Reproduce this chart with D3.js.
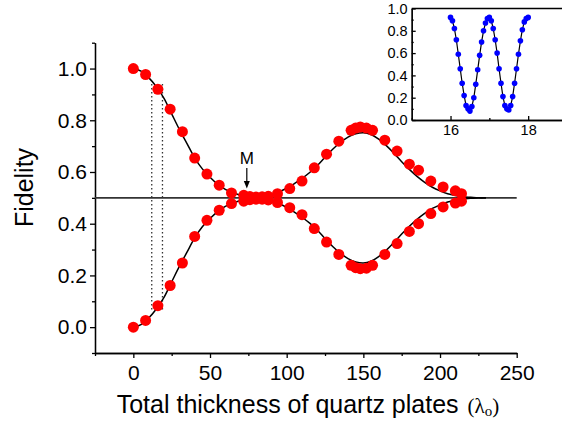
<!DOCTYPE html>
<meta charset="utf-8">
<head>
  <title>Fidelity vs quartz thickness</title>
</head>
<style>
body {
  margin: 0;
  background: #fff;
  font-family: "Liberation Sans", Arial, sans-serif;
}
.axis path, .axis line {
  stroke: #000;
  stroke-width: 1.3;
}
.axis text {
  fill: #000;
  font-family: "Liberation Sans", Arial, sans-serif;
}
</style>
<body>
  <div id="content"></div>
  <script src="https://cdnjs.cloudflare.com/ajax/libs/d3/7.8.5/d3.min.js"></script>
  <script>

// measured points (total thickness in units of lambda_o)
var thickness = [0, 8, 16, 24, 32, 40, 48, 56, 64, 72, 76, 80, 84, 88, 94, 102, 110, 118, 126, 134,
  142, 145, 148, 152, 156, 164, 172, 180, 186, 194, 202, 210, 214];
var fidUpper = [1.0, 0.977, 0.92, 0.843, 0.756, 0.654, 0.592, 0.549, 0.519, 0.51, 0.505, 0.503, 0.504, 0.506,
  0.516, 0.536, 0.565, 0.616, 0.669, 0.719, 0.761, 0.77, 0.774, 0.77, 0.761, 0.723, 0.681, 0.63, 0.607,
  0.565, 0.542, 0.527, 0.516];
var fidLower = [0, 0.026, 0.083, 0.161, 0.248, 0.351, 0.413, 0.452, 0.478, 0.487, 0.493, 0.495, 0.495, 0.492,
  0.482, 0.462, 0.435, 0.381, 0.329, 0.281, 0.239, 0.23, 0.226, 0.228, 0.239, 0.281, 0.323, 0.37, 0.4,
  0.439, 0.465, 0.48, 0.487];

// theory curves
var curveT = [0, 5, 10, 15, 20, 25, 30, 35, 40, 45, 50, 55, 60, 65, 70, 75, 80, 85, 90, 95, 100, 105, 110,
  115, 120, 125, 130, 135, 140, 145, 150, 155, 160, 165, 170, 175, 180, 185, 190, 195, 200, 205, 210,
  215, 220, 225, 230];
var curveUpper = [1.0, 0.99, 0.965, 0.93, 0.885, 0.825, 0.765, 0.71, 0.655, 0.612, 0.58, 0.553, 0.533, 0.52,
  0.51, 0.505, 0.503, 0.505, 0.512, 0.523, 0.537, 0.555, 0.575, 0.598, 0.625, 0.657, 0.688, 0.714, 0.735,
  0.748, 0.752, 0.745, 0.727, 0.702, 0.672, 0.64, 0.61, 0.583, 0.56, 0.541, 0.527, 0.516, 0.509, 0.504,
  0.502, 0.5, 0.5];
var curveLower = [0, 0.01, 0.035, 0.07, 0.115, 0.175, 0.235, 0.29, 0.345, 0.388, 0.42, 0.447, 0.467, 0.48,
  0.49, 0.495, 0.497, 0.495, 0.488, 0.477, 0.463, 0.445, 0.425, 0.402, 0.375, 0.343, 0.312, 0.286, 0.265,
  0.252, 0.248, 0.255, 0.273, 0.298, 0.328, 0.36, 0.39, 0.417, 0.44, 0.459, 0.473, 0.484, 0.491, 0.496,
  0.498, 0.5, 0.5];

// inset
var insetT = [16.0, 16.05, 16.1, 16.15, 16.2, 16.25, 16.3, 16.35, 16.4, 16.45, 16.5, 16.55, 16.6, 16.65,
  16.7, 16.75, 16.8, 16.85, 16.9, 16.95, 17.0, 17.05, 17.1, 17.15, 17.2, 17.25, 17.3, 17.35, 17.4, 17.45,
  17.5, 17.55, 17.6, 17.65, 17.7, 17.75, 17.8, 17.85, 17.9, 17.95, 18.0];
var insetF = [0.92, 0.89, 0.82, 0.72, 0.59, 0.46, 0.33, 0.22, 0.13, 0.1, 0.08, 0.12, 0.2, 0.32, 0.45, 0.58,
  0.7, 0.8, 0.87, 0.91, 0.92, 0.89, 0.82, 0.72, 0.6, 0.46, 0.33, 0.21, 0.13, 0.1, 0.09, 0.13, 0.21, 0.33,
  0.46, 0.59, 0.71, 0.81, 0.88, 0.91, 0.92];

var xMajor = [0, 50, 100, 150, 200, 250];
var xMinor = [-25, 25, 75, 125, 175, 225];
var yMajor = [0, 0.2, 0.4, 0.6, 0.8, 1.0];
var yMinor = [-0.1, 0.1, 0.3, 0.5, 0.7, 0.9, 1.1];
var insetXMajor = [16, 18];
var insetXMinor = [15, 17, 19];
var insetYMajor = [0, 0.2, 0.4, 0.6, 0.8, 1.0];
var insetYMinor = [0.1, 0.3, 0.5, 0.7, 0.9];

var svg = d3.select('#content').append('svg')
  .attr('width', 562)
  .attr('height', 423);

var x = d3.scaleLinear().domain([-25, 250]).range([95, 516.7]);
var y = d3.scaleLinear().domain([-0.1, 1.1]).range([353, 42.7]);

// axes
svg.append('g').attr('class', 'axis')
  .attr('transform', 'translate(0,353)')
  .call(d3.axisBottom(x).tickValues(xMinor).tickSize(3).tickSizeOuter(0).tickFormat(''));
svg.append('g').attr('class', 'axis')
  .attr('transform', 'translate(0,353)')
  .call(d3.axisBottom(x).tickValues(xMajor).tickSize(5).tickSizeOuter(0).tickPadding(7.5))
  .selectAll('text').style('font-size', '21px');
svg.append('g').attr('class', 'axis')
  .attr('transform', 'translate(95,0)')
  .call(d3.axisLeft(y).tickValues(yMinor).tickSize(3).tickSizeOuter(0).tickFormat(''));
svg.append('g').attr('class', 'axis')
  .attr('transform', 'translate(95,0)')
  .call(d3.axisLeft(y).tickValues(yMajor).tickSize(5).tickSizeOuter(0).tickPadding(3).tickFormat(d3.format('.1f')))
  .selectAll('text').style('font-size', '21px');

// 0.5 reference line
svg.append('line')
  .attr('x1', x(-25)).attr('x2', x(250))
  .attr('y1', y(0.5)).attr('y2', y(0.5))
  .attr('stroke', '#333').attr('stroke-width', 1.6);

// dotted markers
svg.append('g').selectAll('line')
  .data([12, 19])
  .enter().append('line')
  .attr('x1', d => x(d)).attr('x2', d => x(d))
  .attr('y1', y(0.94)).attr('y2', y(0.065))
  .attr('stroke', '#333').attr('stroke-width', 1.3)
  .attr('stroke-dasharray', '1.5,2.5');

// theory curves
var curveLine = d3.line()
  .x(d => x(d[0]))
  .y(d => y(d[1]))
  .curve(d3.curveCatmullRom);

[curveUpper, curveLower].forEach(function(vals) {
  svg.append('path')
    .datum(curveT.map((t, i) => [t, vals[i]]))
    .attr('d', curveLine)
    .attr('fill', 'none')
    .attr('stroke', '#000')
    .attr('stroke-width', 1.5);
});

// data points
[fidUpper, fidLower].forEach(function(vals) {
  svg.append('g').selectAll('circle')
    .data(thickness.map((t, i) => [t, vals[i]]))
    .enter().append('circle')
    .attr('cx', d => x(d[0]))
    .attr('cy', d => y(d[1]))
    .attr('r', 5.5)
    .attr('fill', '#ff0000');
});

// M annotation
svg.append('text')
  .attr('x', x(74)).attr('y', 163.5)
  .attr('text-anchor', 'middle')
  .style('font-size', '17px')
  .text('M');
svg.append('line')
  .attr('x1', x(74)).attr('x2', x(74))
  .attr('y1', 168).attr('y2', 182)
  .attr('stroke', '#000').attr('stroke-width', 1.2);
svg.append('path')
  .attr('d', 'M' + (x(74) - 3) + ',181 L' + (x(74) + 3) + ',181 L' + x(74) + ',188.5 Z')
  .attr('fill', '#000');

// axis titles
svg.append('text')
  .attr('transform', 'translate(33,187.5) rotate(-90)')
  .attr('text-anchor', 'middle')
  .style('font-size', '25px')
  .text('Fidelity');

var xt = svg.append('text')
  .attr('x', 116.7).attr('y', 413)
  .style('font-size', '25px');
xt.append('tspan').text('Total thickness of quartz plates');
var unit = xt.append('tspan')
  .attr('dx', 9)
  .style('font-family', '"Liberation Serif", "Times New Roman", serif')
  .style('font-size', '21px');
unit.append('tspan').text('(\u03bb');
unit.append('tspan').attr('dy', 3).style('font-size', '15px').text('o');
unit.append('tspan').attr('dy', -3).text(')');

// inset
var xi = d3.scaleLinear().domain([15, 19]).range([411.7, 567]);
var yi = d3.scaleLinear().domain([0, 1]).range([120, 8.5]);
var inset = svg.append('g');

inset.append('line')
  .attr('x1', xi(15)).attr('x2', 562)
  .attr('y1', yi(1)).attr('y2', yi(1))
  .attr('stroke', '#000').attr('stroke-width', 1.3);

inset.append('g').attr('class', 'axis')
  .attr('transform', 'translate(0,' + yi(0) + ')')
  .call(d3.axisBottom(xi).tickValues(insetXMinor).tickSize(-2).tickSizeOuter(0).tickFormat(''));
inset.append('g').attr('class', 'axis')
  .attr('transform', 'translate(0,' + yi(0) + ')')
  .call(d3.axisBottom(xi).tickValues(insetXMajor).tickSize(-4).tickSizeOuter(0).tickPadding(5).tickFormat(d3.format('d')))
  .selectAll('text').style('font-size', '14.5px');
inset.append('g').attr('class', 'axis')
  .attr('transform', 'translate(' + xi(15) + ',0)')
  .call(d3.axisLeft(yi).tickValues(insetYMinor).tickSize(-2).tickSizeOuter(0).tickFormat(''));
inset.append('g').attr('class', 'axis')
  .attr('transform', 'translate(' + xi(15) + ',0)')
  .call(d3.axisLeft(yi).tickValues(insetYMajor).tickSize(-4).tickSizeOuter(0).tickPadding(4).tickFormat(d3.format('.1f')))
  .selectAll('text').style('font-size', '14.5px');

var insetData = insetT.map((t, i) => [t, insetF[i]]);
inset.append('path')
  .datum(insetData)
  .attr('d', d3.line().x(d => xi(d[0])).y(d => yi(d[1])))
  .attr('fill', 'none')
  .attr('stroke', '#000')
  .attr('stroke-width', 1.2);
inset.append('g').selectAll('circle')
  .data(insetData)
  .enter().append('circle')
  .attr('cx', d => xi(d[0]))
  .attr('cy', d => yi(d[1]))
  .attr('r', 2.8)
  .attr('fill', '#0000ff');
</script>
</body>
</html>
